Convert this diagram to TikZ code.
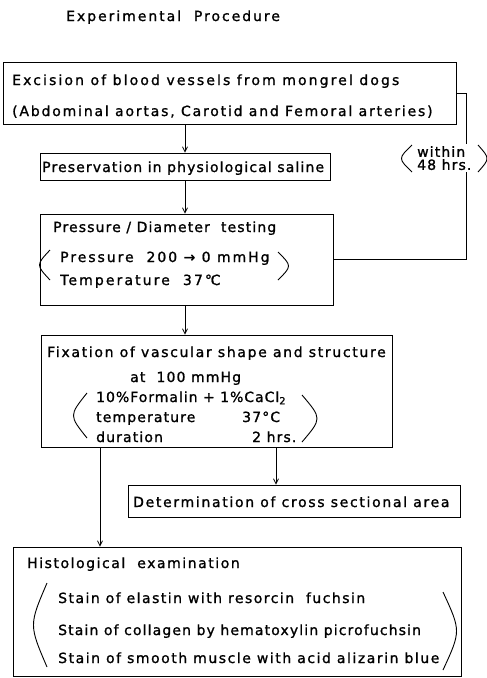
\documentclass[tikz,border=0pt]{standalone}
\usepackage{fontspec}
\setmainfont[LetterSpace=8, FakeBold=1.2]{DejaVu Sans}
\usetikzlibrary{arrows.meta}

\begin{document}
\begin{tikzpicture}[x=1pt, y=-1pt]
    \tikzstyle{box}=[draw, line width=0.8pt, inner sep=0pt]
    \tikzstyle{txt}=[anchor=base west, inner sep=0pt,
            font=\fontsize{14}{15}\selectfont]
    \tikzset{ls/.style={font=\fontsize{14}{15}\selectfont
            \addfontfeatures{LetterSpace=#1}}}
    \tikzstyle{arr}=[line width=0.8pt,
            -{Straight Barb[length=5pt, width=5pt]}]
    \tikzstyle{link}=[line width=0.8pt]
    \tikzstyle{paren}=[line width=0.9pt]

    \useasboundingbox (0,0) rectangle (487,678);

    \node[txt, ls=14] (title) at (66,21) {Experimental\ \ Procedure};

    % boxes
    \node[box, minimum width=453pt, minimum height=62pt] (b1) at (229.5,93) {};
    \node[box, minimum width=290pt, minimum height=27pt] (b2) at (185,166.5) {};
    \node[box, minimum width=293pt, minimum height=91pt] (b3) at (186.5,259.5) {};
    \node[box, minimum width=351pt, minimum height=112pt] (b4) at (216.5,391) {};
    \node[box, minimum width=332pt, minimum height=32pt] (b5) at (294,501) {};
    \node[box, minimum width=448pt, minimum height=129pt] (b6) at (237,611.5) {};

    % texts
    \node[txt, ls=15] (t11) at (12,85) {Excision of blood vessels from mongrel dogs};
    \node[txt, ls=13] (t12) at (12,116) {(Abdominal aortas, Carotid and Femoral arteries)};
    \node[txt] (t21) at (42,172) {Preservation in physiological saline};
    \node[txt] (t31) at (53,232) {Pressure / Diameter\ \ testing};
    \node[txt, ls=14] (t32) at (60,262) {Pressure\ \ 200 → 0 mmHg};
    \node[txt, ls=15] (t33) at (60,285) {Temperature\ \ 37℃};
    \node[txt, ls=12] (t41) at (47,357) {Fixation of vascular shape and structure};
    \node[txt] (t42) at (130,382) {at\ \ 100 mmHg};
    \node[txt, ls=7] (t43) at (96,402) {10\%Formalin + 1\%CaCl\textsubscript{2}};
    \node[txt] (t44) at (96,422) {temperature};
    \node[txt] (t45) at (242,422) {37°C};
    \node[txt] (t46) at (96,442) {duration};
    \node[txt] (t47) at (252,442) {2 hrs.};
    \node[txt, ls=12] (t51) at (133,507) {Determination of cross sectional area};
    \node[txt, ls=11] (t61) at (27,568) {Histological\ \ examination};
    \node[txt, ls=10.5] (t62) at (58,603) {Stain of elastin with resorcin\ \ fuchsin};
    \node[txt] (t63) at (58,635) {Stain of collagen by hematoxylin picrofuchsin};
    \node[txt, ls=11] (t64) at (58,663) {Stain of smooth muscle with acid alizarin blue};

    % connectors
    \coordinate (xa) at (185,0);
    \coordinate (xb) at (276,0);
    \coordinate (xc) at (100,0);
    \coordinate (xs) at (466,0);
    \draw[arr] (b1.south -| xa) -- (b2.north -| xa);
    \draw[arr] (b2.south -| xa) -- (b3.north -| xa);
    \draw[arr] (b3.south -| xa) -- (b4.north -| xa);
    \draw[arr] (b4.south -| xb) -- (b5.north -| xb);
    \draw[arr] (b4.south -| xc) -- (b6.north -| xc);
    \draw[link] (b1.east) -| (b3.east -| xs) -- (b3.east);

    \node[txt, anchor=north west, align=left, fill=white, inner xsep=1pt,
          inner ysep=2pt, font=\fontsize{14}{13}\selectfont]
          (within) at (416,144) {within\\48 hrs.};

    % parentheses
    \foreach \xa/\xc/\ya/\yb in {50/36/250/280, 278/292/252/280,
            87/69/393/438, 302/322/395/442, 47/29/583/667, 443/461/592/670,
            412/398/145/172, 478/490/145/172}
    {
        \draw[paren] (\xa,\ya) .. controls (\xc,{(\ya+\yb)/2}) .. (\xa,\yb);
    }
\end{tikzpicture}
\end{document}
